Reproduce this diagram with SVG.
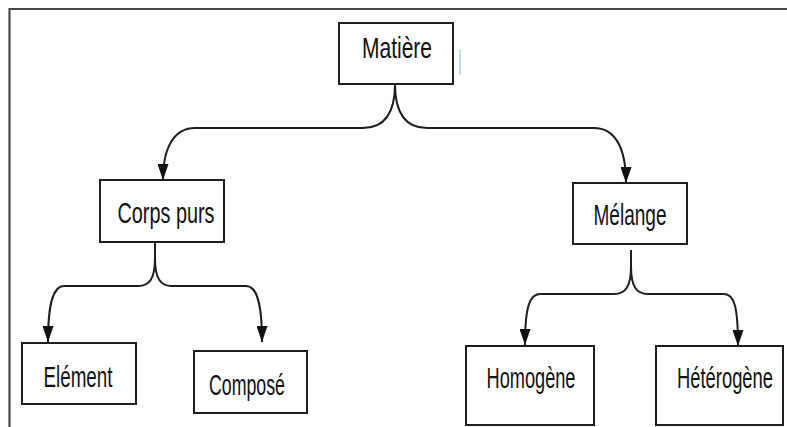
<svg xmlns="http://www.w3.org/2000/svg" width="787" height="427" viewBox="0 0 787 427">
<defs>
<style>
.box{fill:#fff;stroke:#1e1e1e;stroke-width:2}
.lbl{font-family:"Liberation Sans",Arial,sans-serif;font-size:20px;fill:#111;text-anchor:middle}
.con{fill:none;stroke:#1e1e1e;stroke-width:2}
.frame{fill:none;stroke:#4a4a4a;stroke-width:2.2}
</style>
<marker id="arr" viewBox="0 0 16 11" refX="16" refY="5.5" markerWidth="16" markerHeight="11" markerUnits="userSpaceOnUse" orient="auto">
<path d="M0,0 L16,5.5 L0,11 Z" fill="#111"/>
</marker>
</defs>
<rect width="787" height="427" fill="#fff"/>
<path class="frame" d="M9.5,427 L9.5,9 L787,9"/>
<line x1="460" y1="50" x2="460" y2="75" stroke="#b8cbe6" stroke-width="1.5"/>
<g id="connectors">
<path class="con" marker-end="url(#arr)" d="M395,84 C395,112 385,128 363,128 L195,128 C175,128 163,146 163,180"/>
<path class="con" marker-end="url(#arr)" d="M395,84 C395,112 405,128 427,128 L594,128 C614,128 626,146 626,183"/>
<path class="con" marker-end="url(#arr)" d="M155,242 L155,258 C155,278 150,286 138,286 L64,286 C54,286 48,300 48,342"/>
<path class="con" marker-end="url(#arr)" d="M155,258 C155,278 160,286 172,286 L246,286 C256,286 262,300 262,342"/>
<path class="con" marker-end="url(#arr)" d="M631,250 L631,266 C631,286 626,294 614,294 L540,294 C530,294 525,306 525,345"/>
<path class="con" marker-end="url(#arr)" d="M631,266 C631,286 636,294 648,294 L724,294 C734,294 738,306 738,346"/>
</g>
<g id="matiere">
<rect class="box" x="339" y="23" width="114" height="61"/>
<text class="lbl" transform="translate(397,58) scale(1,1.45)" textLength="70" lengthAdjust="spacingAndGlyphs">Matière</text>
</g>
<g id="corps-purs">
<rect class="box" x="100" y="180" width="124" height="62"/>
<text class="lbl" transform="translate(166,223) scale(1,1.45)" textLength="97" lengthAdjust="spacingAndGlyphs">Corps purs</text>
</g>
<g id="melange">
<rect class="box" x="573" y="183" width="114" height="61"/>
<text class="lbl" transform="translate(630,225) scale(1,1.45)" textLength="73" lengthAdjust="spacingAndGlyphs">Mélange</text>
</g>
<g id="element">
<rect class="box" x="22" y="343" width="114" height="61"/>
<text class="lbl" transform="translate(78,387) scale(1,1.45)" textLength="69" lengthAdjust="spacingAndGlyphs">Elément</text>
</g>
<g id="compose">
<rect class="box" x="194" y="351" width="113" height="62"/>
<text class="lbl" transform="translate(247,395) scale(1,1.45)" textLength="76" lengthAdjust="spacingAndGlyphs">Composé</text>
</g>
<g id="homogene">
<rect class="box" x="466" y="346" width="128" height="79"/>
<text class="lbl" transform="translate(531,388) scale(1,1.45)" textLength="89" lengthAdjust="spacingAndGlyphs">Homogène</text>
</g>
<g id="heterogene">
<rect class="box" x="656" y="346" width="127" height="79"/>
<text class="lbl" transform="translate(725,388) scale(1,1.45)" textLength="96" lengthAdjust="spacingAndGlyphs">Hétérogène</text>
</g>
</svg>
